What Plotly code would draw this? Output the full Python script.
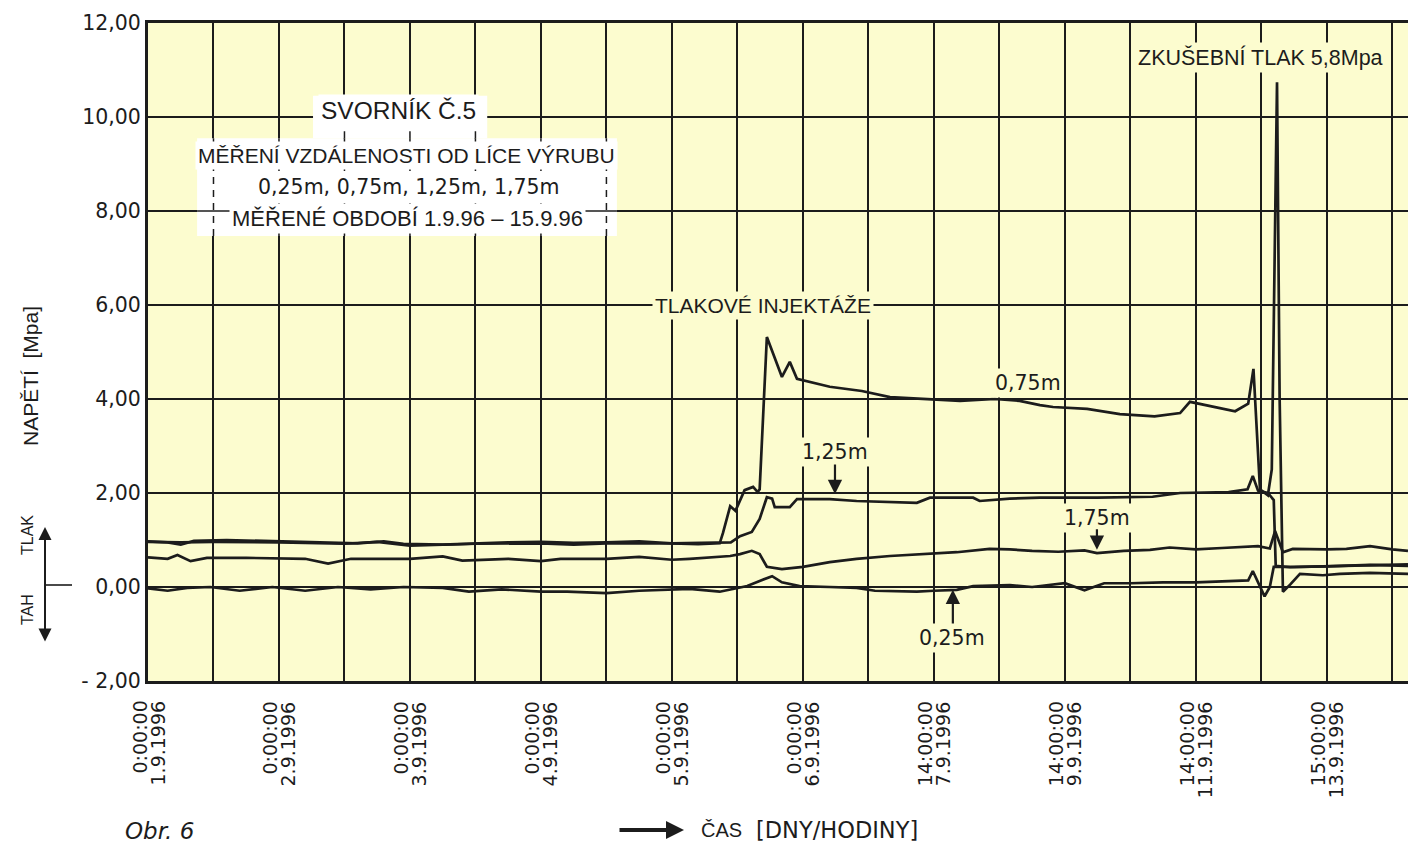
import plotly.graph_objects as go

# ---------------- data (x in grid-division units, y in MPa) ----------------
x_tick_pos = [0, 2, 4, 6, 8, 10, 12, 14, 16, 18]
x_tick_time = ["0:00:00", "0:00:00", "0:00:00", "0:00:00", "0:00:00",
               "0:00:00", "14:00:00", "14:00:00", "14:00:00", "15:00:00"]
x_tick_date = ["1.9.1996", "2.9.1996", "3.9.1996", "4.9.1996", "5.9.1996",
               "6.9.1996", "7.9.1996", "9.9.1996", "11.9.1996", "13.9.1996"]
y_tick_vals = [-2, 0, 2, 4, 6, 8, 10, 12]
y_tick_text = ["- 2,00", "0,00", "2,00", "4,00", "6,00", "8,00", "10,00", "12,00"]

# 0,75 m
x_075 = [0, 0.3, 0.5, 0.7, 1.2, 1.9, 2.5, 3.2, 3.6, 3.9, 4.5, 5.0, 5.5, 6.0, 6.5, 7.0,
         7.5, 8.0, 8.4, 8.73, 8.78, 8.89, 8.97, 9.11, 9.24, 9.31, 9.34, 9.45, 9.68,
         9.80, 9.91, 10.41, 10.9, 11.33, 11.79, 12.4, 12.93, 13.31, 13.62, 13.82,
         14.34, 14.84, 15.37, 15.76, 15.91, 16.21, 16.6, 16.8, 16.88, 16.98, 17.1,
         17.16, 17.24, 17.28, 17.33, 17.44, 17.59, 17.94, 18.2, 18.66, 19.24]
y_075 = [0.97, 0.95, 0.9, 0.98, 1.0, 0.97, 0.95, 0.93, 0.97, 0.92, 0.9, 0.93, 0.95,
         0.96, 0.94, 0.95, 0.97, 0.93, 0.91, 0.93, 1.15, 1.72, 1.62, 2.06, 2.13, 2.02,
         2.08, 5.32, 4.47, 4.79, 4.43, 4.26, 4.17, 4.04, 4.0, 3.96, 4.0, 3.96, 3.87,
         3.83, 3.79, 3.68, 3.63, 3.7, 3.94, 3.85, 3.74, 3.9, 4.64, 2.08, 1.95, 2.5,
         10.74, 4.0, -0.1, 0.05, 0.28, 0.25, 0.28, 0.3, 0.28]

# 1,25 m
x_125 = [0, 0.5, 1.0, 2.0, 3.0, 3.5, 4.0, 4.5, 5.0, 6.0, 6.5, 7.0, 8.0, 8.9, 9.04,
         9.22, 9.34, 9.45, 9.53, 9.57, 9.80, 9.91, 10.41, 10.82, 11.74, 11.94, 12.6,
         12.7, 13.16, 13.62, 14.5, 15.34, 15.76, 16.5, 16.79, 16.87, 16.95, 17.1,
         17.19, 17.22, 17.44, 17.94, 18.66, 19.24]
y_125 = [0.96, 0.95, 0.96, 0.95, 0.92, 0.96, 0.88, 0.9, 0.92, 0.93, 0.9, 0.93, 0.93,
         0.95, 1.08, 1.17, 1.45, 1.91, 1.88, 1.7, 1.7, 1.87, 1.87, 1.83, 1.79, 1.9,
         1.9, 1.83, 1.88, 1.9, 1.9, 1.92, 2.0, 2.02, 2.08, 2.36, 2.05, 2.0, 1.85,
         0.45, 0.42, 0.44, 0.47, 0.48]

# 1,75 m
x_175 = [0, 0.3, 0.45, 0.65, 0.9, 1.5, 2.4, 2.75, 3.1, 4.0, 4.5, 4.8, 5.5, 6.0, 6.3,
         7.0, 7.5, 8.0, 8.27, 8.6, 8.89, 9.04, 9.22, 9.34, 9.45, 9.68, 10.0, 10.41,
         10.82, 11.33, 11.79, 12.35, 12.85, 13.16, 13.5, 13.9, 14.3, 14.49, 14.9,
         15.3, 15.6, 16.0, 16.4, 16.95, 17.13, 17.21, 17.33, 17.48, 18.0, 18.3,
         18.66, 19.0, 19.24]
y_175 = [0.63, 0.6, 0.68, 0.55, 0.62, 0.62, 0.6, 0.5, 0.6, 0.6, 0.65, 0.56, 0.6,
         0.55, 0.6, 0.6, 0.64, 0.58, 0.6, 0.63, 0.66, 0.7, 0.77, 0.7, 0.43, 0.38,
         0.43, 0.53, 0.6, 0.66, 0.7, 0.74, 0.81, 0.8, 0.77, 0.75, 0.78, 0.72, 0.77,
         0.79, 0.84, 0.8, 0.83, 0.87, 0.82, 1.19, 0.74, 0.81, 0.8, 0.81, 0.87, 0.8,
         0.77]

# 0,25 m
x_025 = [0, 0.3, 0.6, 0.95, 1.4, 1.9, 2.4, 2.9, 3.4, 3.9, 4.5, 4.9, 5.4, 6.0, 6.4,
         7.0, 7.5, 8.0, 8.27, 8.73, 8.93, 9.15, 9.34, 9.53, 9.68, 9.95, 10.41, 10.82,
         11.1, 11.74, 12.0, 12.35, 12.6, 13.16, 13.5, 14.0, 14.3, 14.6, 15.0, 15.5,
         16.0, 16.6, 16.8, 16.87, 16.95, 17.05, 17.13, 17.19, 17.5, 18.0, 18.66, 19.24]
y_025 = [-0.03, -0.08, -0.02, 0.0, -0.08, 0.0, -0.08, 0.0, -0.05, 0.0, -0.02, -0.1,
         -0.05, -0.1, -0.1, -0.13, -0.08, -0.05, -0.04, -0.1, -0.04, 0.02, 0.13, 0.23,
         0.1, 0.02, 0.0, -0.02, -0.08, -0.1, -0.08, -0.06, 0.02, 0.04, 0.0, 0.08,
         -0.07, 0.08, 0.08, 0.1, 0.1, 0.12, 0.14, 0.34, 0.1, -0.2, 0.0, 0.43, 0.43,
         0.44, 0.47, 0.45]

series = [("0,75m", x_075, y_075), ("1,25m", x_125, y_125),
          ("1,75m", x_175, y_175), ("0,25m", x_025, y_025)]

# ---------------- styling ----------------
BG = "#FCFCCF"
INK = "#1c1c1c"
SANS = "Liberation Sans, Arial, sans-serif"
WIDE = "DejaVu Sans, sans-serif"

W, H = 1408, 846
ML, MR, MT, MB = 148, 0, 23, 165
PW, PH = W - ML - MR, H - MT - MB


def px(xp):  # pixel x -> paper
    return (xp - ML) / PW


def py(yp):  # pixel y -> paper
    return (MT + PH - yp) / PH


fig = go.Figure()
for name, xs, ys in series:
    fig.add_trace(go.Scatter(x=xs, y=ys, mode="lines", name=name,
                             line=dict(color=INK, width=2.7), showlegend=False,
                             hoverinfo="skip"))

shapes = []
# white boxes behind the title text
shapes.append(dict(type="rect", xref="x", yref="y", x0=0.75, x1=7.16, y0=7.47, y1=9.55,
                   fillcolor="white", line=dict(width=0), layer="above"))
shapes.append(dict(type="rect", xref="x", yref="y", x0=2.52, x1=5.18, y0=9.55, y1=10.45,
                   fillcolor="white", line=dict(width=0), layer="above"))
for gx in range(1, 8):
    shapes.append(dict(type="line", xref="x", yref="y", x0=gx, x1=gx, y0=7.47, y1=9.55,
                       line=dict(color=INK, width=1.5, dash="7px,6px"), layer="above"))
for gx in (3, 4, 5):
    shapes.append(dict(type="line", xref="x", yref="y", x0=gx, x1=gx, y0=9.55, y1=10.45,
                       line=dict(color=INK, width=1.5, dash="7px,6px"), layer="above"))
shapes.append(dict(type="line", xref="x", yref="y", x0=0.75, x1=7.16, y0=8, y1=8,
                   line=dict(color=INK, width=1.6), layer="above"))
# zero marker next to the TAH/TLAK arrow
shapes.append(dict(type="line", xref="paper", yref="paper", x0=px(45), x1=px(72),
                   y0=py(585), y1=py(585), line=dict(color=INK, width=1.6)))

ann = []


def txt(x, y, s, size=21, family=SANS, bg=None, xref="x", yref="y", **kw):
    d = dict(x=x, y=y, xref=xref, yref=yref, text=s, showarrow=False,
             xanchor="center", yanchor="middle",
             font=dict(family=family, size=size, color=INK))
    if bg:
        d.update(bgcolor=bg, borderpad=2)
    d.update(kw)
    ann.append(d)


# title block
txt(3.82, 10.13, "SVORNÍK Č.5", size=24.5, bg="white")
txt(3.94, 9.19, "MĚŘENÍ VZDÁLENOSTI OD LÍCE VÝRUBU", size=21, bg="white")
txt(3.98, 8.51, "0,25m, 0,75m, 1,25m, 1,75m", size=20.5, family=WIDE, bg="white")
txt(3.97, 7.85, "MĚŘENÉ OBDOBÍ 1.9.96 – 15.9.96", size=22, bg="white")

# in-plot labels
txt(9.39, 5.98, "TLAKOVÉ INJEKTÁŽE", size=21, bg=BG)
txt(16.98, 11.26, "ZKUŠEBNÍ TLAK 5,8Mpa", size=21.5, bg=BG)
txt(13.43, 4.34, "0,75m", size=20.5, family=WIDE, bg=BG)
txt(10.49, 2.87, "1,25m", size=20.5, family=WIDE, bg=BG)
txt(14.49, 1.47, "1,75m", size=20.5, family=WIDE, bg=BG)
txt(12.27, -1.09, "0,25m", size=20.5, family=WIDE, bg=BG)


def arrow(x, y, ax, ay):
    ann.append(dict(x=x, y=y, ax=ax, ay=ay, xref="x", yref="y", axref="x", ayref="y",
                    text="", showarrow=True, arrowhead=2, arrowsize=1.3,
                    arrowwidth=2.2, arrowcolor=INK))


arrow(10.49, 1.98, 10.49, 2.64)
arrow(14.49, 0.79, 14.49, 1.26)
arrow(12.29, -0.06, 12.29, -0.81)

# x tick labels (two rotated lines each)
for pos, t, d in zip(x_tick_pos, x_tick_time, x_tick_date):
    for s, shift in ((t, -9), (d, 9)):
        ann.append(dict(x=pos, y=py(699), xref="x", yref="paper", text=s,
                        showarrow=False, textangle=-90, xanchor="center",
                        yanchor="top", xshift=shift,
                        font=dict(family=WIDE, size=19, color=INK)))

# axis titles and marks
txt(px(30), py(376), "NAPĚTÍ  [Mpa]", size=21, xref="paper", yref="paper",
    textangle=-90)
txt(px(27), py(535), "TLAK", size=16, xref="paper", yref="paper", textangle=-90)
txt(px(27), py(609), "TAH", size=16, xref="paper", yref="paper", textangle=-90)
ann.append(dict(x=px(45), y=py(527), xref="paper", yref="paper", ax=0, ay=116,
                text="", showarrow=True, arrowside="end+start", arrowhead=2,
                startarrowhead=2, arrowsize=1.3, startarrowsize=1.3,
                arrowwidth=2, arrowcolor=INK))

txt(px(123), py(831), "<i>Obr. 6</i>", size=23, family=WIDE, xref="paper",
    yref="paper", xanchor="left")
ann.append(dict(x=px(684), y=py(830), xref="paper", yref="paper", ax=-66, ay=0,
                text="", showarrow=True, arrowhead=2, arrowsize=0.9,
                arrowwidth=4, arrowcolor=INK))
txt(px(699), py(830), "ČAS", size=20, xref="paper", yref="paper", xanchor="left")
txt(px(754), py(830), "[DNY/HODINY]", size=22.5, family=WIDE, xref="paper",
    yref="paper", xanchor="left")

fig.update_layout(
    width=W, height=H,
    margin=dict(l=ML, r=MR, t=MT, b=MB, pad=0),
    paper_bgcolor="white",
    plot_bgcolor=BG,
    shapes=shapes,
    annotations=ann,
    xaxis=dict(range=[0, 19.24], tickvals=list(range(0, 20)), showticklabels=False,
               showgrid=True, gridcolor=INK, gridwidth=1.7, zeroline=False,
               showline=True, linecolor=INK, linewidth=3, mirror=True, ticks=""),
    yaxis=dict(range=[-2, 12], tickvals=y_tick_vals, ticktext=y_tick_text,
               tickfont=dict(family=WIDE, size=20.5, color=INK),
               showgrid=True, gridcolor=INK, gridwidth=1.7, zeroline=False,
               showline=True, linecolor=INK, linewidth=3, mirror=False, ticks="",
               ticklabelstandoff=0),
)

fig.write_html("out.html", config={"displayModeBar": False},
               post_script="document.body.style.margin='0';")
